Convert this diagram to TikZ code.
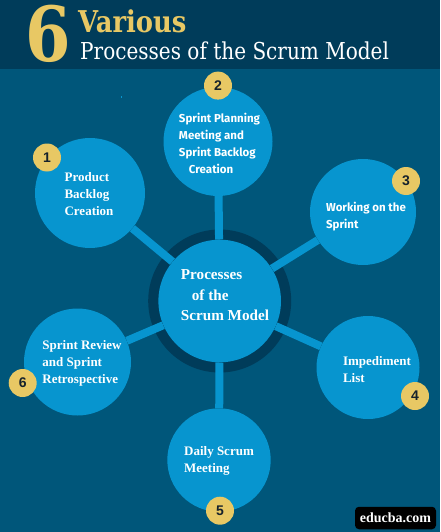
\documentclass[tikz,border=0pt]{standalone}
\usepackage{fontspec}
\setmainfont{Liberation Serif}
\newfontfamily\slabfont{DejaVu Serif}[FakeStretch=0.86]
\newfontfamily\headfont{Fira Sans}
\newfontfamily\digitfont{Liberation Sans}
\definecolor{figBg}{RGB}{0,86,122}
\definecolor{figDark}{RGB}{0,60,90}
\definecolor{figB}{RGB}{7,149,207}
\definecolor{figG}{RGB}{232,200,100}
\definecolor{figK}{RGB}{22,34,44}
\tikzset{
  disc/.style={circle, fill=figB, inner sep=0pt},
  badge/.style={circle, fill=figG, minimum size=28pt, inner sep=0pt, text=figK,
    font=\digitfont\bfseries\fontsize{14}{14}\selectfont},
  spoke/.style={figB, line width=8pt},
  txt/.style={text=white, align=left, inner sep=0pt, font=\bfseries\fontsize{13}{17}\selectfont},
  sanstxt/.style={txt, font=\headfont\bfseries\fontsize{11.5}{17}\selectfont}
}
\begin{document}
\begin{tikzpicture}[x=1pt, y=-1pt]
  \fill[figBg] (0,0) rectangle (440,532);
  \fill[figDark] (0,0) rectangle (440,69);
  \fill[figB] (121,96) rectangle (121.7,98);
  % heading
  \node[text=figG, inner sep=0pt, font=\slabfont\bfseries\fontsize{76}{76}\selectfont] (six) at (48,33.5) {6};
  \node[text=figG, inner sep=0pt, anchor=base west, font=\slabfont\bfseries\fontsize{30}{30}\selectfont] (various) at (78,33) {Various};
  \node[text=white, inner sep=0pt, anchor=base west, font=\slabfont\fontsize{23.3}{23.3}\selectfont] (title) at (80,60) {Processes of the Scrum Model};
  % hub and discs
  \node[circle, fill=figDark, minimum size=143pt, inner sep=0pt] (ring) at (219.7,301) {};
  \node[disc, minimum size=122.6pt] (hub) at (219.7,301) {};
  \node[disc, minimum size=110pt] (c1) at (90,193) {};
  \node[disc, minimum size=109pt] (c2) at (218,141.5) {};
  \node[disc, minimum size=106pt] (c3) at (363,212) {};
  \node[disc, minimum size=103pt] (c4) at (368,367.5) {};
  \node[disc, minimum size=103.4pt] (c5) at (219,460) {};
  \node[disc, minimum size=107pt] (c6) at (77.5,362) {};
  \foreach \n in {1,...,6}
    \draw[spoke] (hub) -- (c\n);
  % texts
  \node[txt, font=\bfseries\fontsize{15.2}{20.5}\selectfont] (thub) at (225,295.5) {Processes\\[0pt]\hspace*{11pt}of the\\[0pt]Scrum Model};
  \node[txt] (t1) at (89,194.5) {Product\\Backlog\\Creation};
  \node[sanstxt] (t2) at (219.5,143) {Sprint Planning\\Meeting and\\Sprint Backlog\\\hspace*{10pt}Creation};
  \node[sanstxt] (t3) at (366,217) {Working on the\\Sprint};
  \node[txt] (t4) at (377,370) {Impediment\\List};
  \node[txt] (t5) at (219,461) {Daily Scrum\\Meeting};
  \node[txt] (t6) at (82,363.5) {Sprint Review\\and Sprint\\Retrospective};
  % badges
  \node[badge] (b1) at (47,157.5) {1};
  \node[badge] (b2) at (218,85.6) {2};
  \node[badge] (b3) at (406,181) {3};
  \node[badge] (b4) at (415,396) {4};
  \node[badge] (b5) at (220,510.7) {5};
  \node[badge] (b6) at (22.7,383) {6};
  % site mark
  \node[fill=black, rounded corners=4pt, text=white, minimum width=81pt, minimum height=22.5pt, inner sep=0pt,
    font=\bfseries\fontsize{14}{14}\selectfont] (site) at (395.5,518) {educba.com};
\end{tikzpicture}
\end{document}
